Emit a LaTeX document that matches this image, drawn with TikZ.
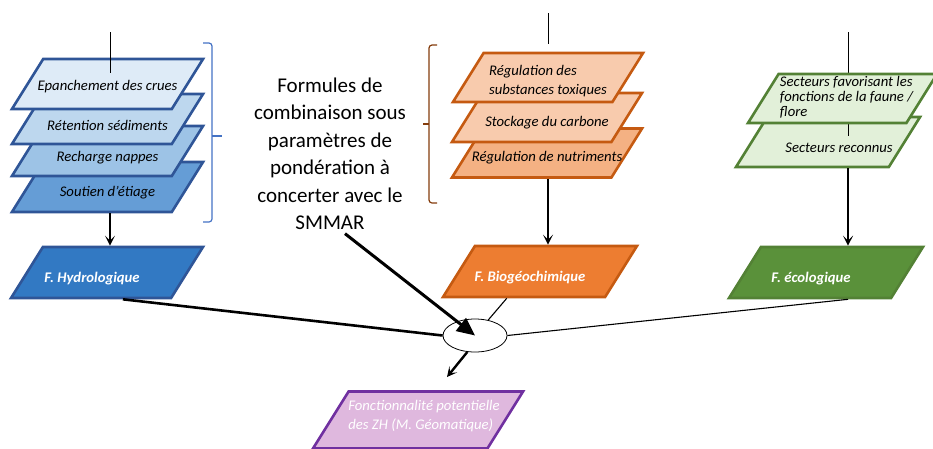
\documentclass[tikz,border=0pt]{standalone}
\usepackage{fontspec}
\setmainfont{Carlito}
\definecolor{hydA}{RGB}{222, 235, 247}
\definecolor{hydB}{RGB}{189, 215, 238}
\definecolor{hydC}{RGB}{157, 195, 230}
\definecolor{hydD}{RGB}{101, 157, 214}
\definecolor{hydF}{RGB}{50, 121, 195}
\definecolor{hydLine}{RGB}{47, 85, 151}
\definecolor{bioA}{RGB}{248, 203, 173}
\definecolor{bioB}{RGB}{244, 177, 131}
\definecolor{bioF}{RGB}{237, 125, 49}
\definecolor{bioLine}{RGB}{197, 90, 17}
\definecolor{ecoA}{RGB}{226, 240, 217}
\definecolor{ecoF}{RGB}{90, 145, 58}
\definecolor{ecoLine}{RGB}{83, 129, 53}
\definecolor{zhF}{RGB}{223, 184, 222}
\definecolor{zhLine}{RGB}{112, 48, 160}
\definecolor{braceBlue}{RGB}{68, 114, 196}
\definecolor{braceBrown}{RGB}{132, 60, 12}
\usetikzlibrary{shapes.geometric, arrows.meta, calc}

\begin{document}
\begin{tikzpicture}[x=1pt, y=-1pt,
  para/.style 2 args={trapezium, trapezium left angle=58, trapezium right angle=122, draw, line width=2.6pt, inner xsep=#1, inner ysep=#2},
  lbl/.style={font=\itshape\fontsize{14.7}{19.5}\selectfont, align=center},
  flbl/.style={font=\bfseries\itshape\fontsize{14.7}{18}\selectfont, text=white},
  arr/.style={-{Stealth[length=10pt, width=10pt, inset=5pt]}, line width=2.2pt},
  thinline/.style={line width=1pt}
]
  \useasboundingbox (0,0) rectangle (933,448);

  \node[para={64.3pt}{25pt}, fill=hydD, draw=hydLine, label={[lbl, yshift=-6pt]center:Soutien d’étiage}] (hyd4) at (107.5,187) {};
  \node[para={64.3pt}{25pt}, fill=hydC, draw=hydLine, label={[lbl, yshift=-7pt]center:Recharge nappes}] (hyd3) at (107.5,151) {};
  \node[para={64.3pt}{25pt}, fill=hydB, draw=hydLine, label={[lbl, yshift=-6pt]center:Rétention sédiments}] (hyd2) at (107.5,119) {};
  \node[para={64.3pt}{25pt}, fill=hydA, draw=hydLine, label={[lbl, yshift=-3pt]center:Epanchement des crues}] (hyd1) at (107.5,84) {};
  \coordinate (topH) at (110,32);
  \coordinate (endH) at (110,73);
  \draw[thinline] (topH) -- (endH);
  \draw[braceBlue, line width=1.2pt, rounded corners=3pt] (203,43) -- (212,43) -- (212,222) -- (203,222);
  \draw[braceBlue, line width=1.2pt] (212,136) -- (222,136);

  \node[font=\fontsize{21}{27.5}\selectfont, align=center] (form) at (330,154) {Formules de\\combinaison sous\\paramètres de\\pondération à\\concerter avec le\\SMMAR};

  \node[para={64.4pt}{24.5pt}, fill=bioB, draw=bioLine, label={[lbl, yshift=-5pt]center:Régulation de nutriments}] (bio3) at (547,153) {};
  \node[para={64.4pt}{24.5pt}, fill=bioA, draw=bioLine, label={[lbl, yshift=-5.5pt]center:Stockage du carbone}] (bio2) at (547,117.5) {};
  \node[para={64.4pt}{24.5pt}, fill=bioA, draw=bioLine, label={[lbl, align=left, yshift=-3.5pt]center:Régulation des\\substances toxiques}] (bio1) at (548,77.5) {};
  \coordinate (topB) at (548,13);
  \coordinate (endB) at (548,44);
  \draw[thinline] (topB) -- (endB);
  \draw[braceBrown, line width=1.2pt, rounded corners=3pt] (437,45) -- (429,45) -- (429,203) -- (437,203);
  \draw[braceBrown, line width=1.2pt] (429,124) -- (423,124);

  \node[para={60.8pt}{25pt}, fill=ecoA, draw=ecoLine, label={[lbl, xshift=11pt, yshift=-6pt]center:Secteurs reconnus}] (eco2) at (828,142) {};
  \coordinate (topE) at (848,32);
  \coordinate (endE) at (848,136);
  \draw[thinline] (topE) -- (endE);
  \node[para={63.9pt}{24.5pt}, fill=ecoA, draw=ecoLine, label={[lbl, align=left, font=\itshape\fontsize{14.7}{15}\selectfont, xshift=4pt, yshift=1.5pt]center:Secteurs favorisant les\\fonctions de la faune /\\flore}] (eco1) at (842.5,98.5) {};

  \node[para={64.1pt}{25.5pt}, fill=hydF, draw=hydLine, label={[flbl, xshift=-15pt, yshift=-6.5pt]center:F. Hydrologique}] (hyd) at (107,272.5) {};
  \node[para={65.1pt}{25.5pt}, fill=bioF, draw=bioLine, label={[flbl, xshift=-10pt, yshift=-6.5pt]center:F. Biogéochimique}] (bio) at (540,271.5) {};
  \node[para={65.1pt}{25.5pt}, fill=ecoF, draw=ecoLine, label={[flbl, xshift=-15pt, yshift=-6.5pt]center:F. écologique}] (eco) at (826,272.5) {};
  \draw[arr] (hyd4.south -| topH) -- (hyd.north -| topH);
  \draw[arr] (bio3.south -| topB) -- (bio.north -| topB);
  \draw[arr] (eco2.south -| topE) -- (eco.north -| topE);

  \node[draw, ellipse, line width=0.8pt, fill=white, minimum width=64pt, minimum height=33pt, inner sep=0pt] (comb) at (475,335.5) {};
  \draw[line width=2.6pt] ($(hyd.bottom left corner)!0.7!(hyd.bottom right corner)$) -- (comb.west);
  \draw[line width=1.1pt] ($(bio.bottom left corner)!0.4!(bio.bottom right corner)$) -- (comb);
  \draw[line width=1.1pt] (eco.south -| topE) -- (comb.east);
  \draw[line width=3pt, -{Triangle[length=18pt, width=16pt]}] ([xshift=15pt]form.south) -- (comb.center);
  \coordinate (outZ) at (447,377);
  \draw[arr, line width=2.4pt] (comb.245) -- (outZ);

  \node[para={69.4pt}{28.5pt}, fill=zhF, draw=zhLine, label={[font=\itshape\fontsize{14.7}{19}\selectfont, text=white, align=left, xshift=6pt, yshift=3.5pt]center:Fonctionnalité potentielle\\des ZH (M. Géomatique)}] (zh) at (418,420) {};
\end{tikzpicture}
\end{document}
